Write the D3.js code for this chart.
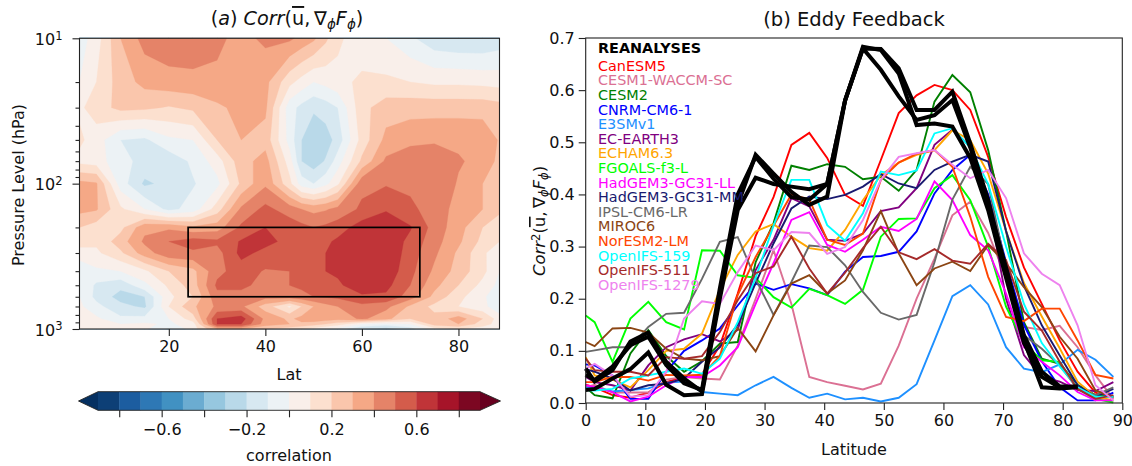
<!DOCTYPE html>
<html>
<head>
<meta charset="utf-8">
<script src="https://cdn.jsdelivr.net/npm/d3@7"></script>
<style>
  html, body { margin: 0; padding: 0; background: #fff; }
  text { font-family: "DejaVu Sans", sans-serif; fill: #111; }
  .ax path, .ax line { stroke: #222; stroke-width: 1.1; }
  .ax text { font-size: 16px; }
</style>
</head>
<body>
<svg id="fig" width="1132" height="466"></svg>
<script>
// panel (a): correlation field, rows run from 10 hPa down to 1000 hPa
const fieldLats = [1.5,5,10,15,20,25,30,35,40,45,47.5,50,52.5,55,60,65,70,75,80,85,88.5];
const pressureLevels = [10,20,30,50,70,100,150,200,250,300,400,500,600,700,850,925,1000];
const corrField = [
  [-.05,.05,.30,.44,.47,.47,.42,.37,.42,.42,.37,.32,.22,.12,.04,.00,-.08,-.17,-.19,-.19,-.16],
  [.00,.10,.25,.33,.36,.37,.38,.37,.33,.13,.06,.00,.03,.07,.12,.12,.10,.08,.08,.07,.06],
  [.08,.15,.23,.22,.19,.22,.28,.33,.32,-.06,-.13,-.18,-.15,-.10,.17,.25,.26,.26,.26,.26,.24],
  [.12,.05,-.10,-.12,-.02,.00,.20,.30,.26,-.04,-.20,-.29,-.25,-.16,.14,.33,.37,.38,.38,.37,.29],
  [.07,.05,-.07,-.13,-.17,-.08,.05,.26,.34,.05,-.20,-.26,-.19,-.05,.22,.42,.47,.49,.41,.37,.27],
  [.33,.31,-.05,-.22,-.17,-.11,-.03,.22,.38,.13,-.05,-.10,-.03,.08,.47,.49,.48,.48,.39,.30,.25],
  [.33,.31,.12,.00,-.13,-.06,.15,.42,.53,.45,.40,.37,.39,.43,.52,.59,.52,.46,.36,.30,.23],
  [.20,.15,.17,.37,.38,.32,.35,.52,.60,.56,.53,.50,.52,.55,.65,.67,.61,.46,.34,.20,.12],
  [.15,.12,.25,.42,.50,.55,.52,.61,.63,.57,.56,.55,.58,.62,.67,.68,.57,.44,.32,.17,.10],
  [.05,.08,.18,.35,.47,.48,.46,.63,.57,.57,.56,.56,.60,.63,.69,.69,.55,.42,.28,.12,.03],
  [-.07,-.02,.00,.08,.20,.27,.47,.55,.49,.50,.52,.56,.60,.62,.68,.67,.53,.38,.26,.13,.00],
  [.00,-.12,-.17,-.03,.12,.25,.52,.52,.47,.50,.52,.55,.57,.58,.67,.63,.50,.33,.20,.07,-.03],
  [.00,-.13,-.24,-.20,.07,.20,.47,.47,.43,.45,.47,.50,.51,.52,.58,.58,.45,.27,.13,.02,-.08],
  [.02,-.07,-.17,-.22,.10,.28,.42,.42,.25,.08,.20,.30,.36,.40,.47,.43,.28,.17,.10,.03,-.07],
  [.05,.02,-.08,-.07,.00,.15,.60,.65,.37,.28,.33,.36,.35,.33,.42,.33,.20,.23,.35,.20,.05],
  [.02,.03,.00,.02,-.02,.05,.60,.60,.35,.30,.28,.25,.20,.15,.00,-.05,.00,.25,.30,.15,.05],
  [.00,.00,.08,.02,-.12,.05,.30,.30,.20,.15,.10,.05,.00,-.05,-.20,-.25,-.15,.05,.10,.05,.03]
];
const boxLats = [24, 72];
const boxPressure = [200, 600];
const contourLevels = d3.range(-9, 10).map(d => d / 10);
const barTicks = [-.8,-.6,-.4,-.2,0,.2,.4,.6,.8];
const barLabels = [-.6,-.2,.2,.6];

// panel (b): latitudes of the model curves
const lats = [0,1.5,4.5,7.5,10.5,13.5,16.5,19.5,22.5,25.5,28.5,31.5,34.5,37.5,40.5,43.5,46.5,49.5,52.5,55.5,58.5,61.5,64.5,67.5,70.5,73.5,76.5,79.5,82.5,85.5,88.5];
const canesm5 = [.035,.03,.015,.01,.02,.04,.05,.055,.11,.21,.32,.395,.495,.518,.47,.399,.378,.466,.556,.59,.61,.60,.562,.472,.357,.26,.19,.12,.06,.02,.01];
const waccm = [.03,.035,.02,.02,.02,.045,.05,.047,.045,.11,.2,.293,.19,.05,.04,.033,.026,.037,.11,.2,.277,.36,.386,.326,.24,.146,.14,.148,.107,.053,.008];
const cesm2 = [.03,.015,.009,.095,.14,.09,.06,.08,.114,.117,.27,.345,.455,.447,.458,.453,.429,.434,.407,.447,.578,.629,.596,.485,.33,.155,.085,.075,.035,.015,.012];
const cnrm = [.074,.072,.053,.008,.008,.06,.10,.12,.143,.187,.229,.217,.228,.22,.207,.252,.28,.282,.29,.329,.402,.447,.476,.40,.27,.15,.08,.03,.005,.005,.02];
const e3sm = [.03,.03,.022,.025,.028,.039,.041,.021,.018,.015,.034,.05,.029,.01,.018,.007,.01,.003,.01,.036,.12,.205,.226,.189,.107,.066,.059,.074,.102,.083,.05];
const ecearth = [.05,.04,.034,.024,.072,.107,.122,.132,.118,.14,.255,.313,.393,.377,.313,.311,.325,.368,.375,.412,.495,.524,.492,.39,.2,.092,.05,.041,.025,.023,.04];
const echam = [.088,.053,.045,.03,.063,.10,.104,.133,.217,.284,.329,.343,.319,.297,.292,.332,.389,.437,.461,.476,.485,.523,.504,.44,.33,.23,.166,.105,.041,.012,.005];
const fgoals = [.168,.155,.079,.162,.194,.155,.141,.293,.292,.245,.24,.203,.183,.219,.207,.19,.217,.319,.353,.354,.412,.437,.389,.3,.185,.114,.082,.079,.027,.008,.001];
const hadLL = [.034,.031,.021,.003,.012,.034,.05,.05,.072,.107,.19,.268,.351,.366,.303,.29,.313,.338,.33,.353,.425,.389,.322,.293,.21,.107,.079,.053,.021,.005,.005];
const hadMM = [.065,.06,.047,.024,.034,.037,.047,.079,.107,.15,.23,.306,.373,.396,.391,.399,.415,.439,.421,.412,.447,.463,.476,.463,.33,.225,.149,.091,.034,.012,.027];
const ipsl = [.098,.101,.107,.107,.146,.171,.173,.238,.309,.318,.238,.169,.232,.302,.299,.264,.213,.173,.16,.169,.27,.39,.453,.42,.26,.13,.104,.072,.027,.015,.03];
const miroc = [.117,.109,.143,.144,.135,.104,.085,.082,.09,.144,.099,.168,.229,.245,.21,.235,.293,.368,.287,.226,.258,.271,.253,.303,.268,.222,.184,.127,.085,.024,.012];
const noresm = [.04,.04,.05,.05,.043,.054,.053,.054,.09,.207,.28,.34,.4,.39,.313,.303,.325,.428,.461,.478,.485,.453,.357,.242,.165,.157,.181,.181,.12,.054,.047];
const ifs159 = [.025,.024,.027,.047,.053,.06,.066,.056,.085,.155,.24,.34,.428,.428,.341,.311,.364,.444,.437,.446,.517,.527,.49,.42,.3,.19,.115,.07,.03,.012,.012];
const ifs511 = [.085,.063,.06,.06,.053,.088,.085,.09,.136,.197,.249,.262,.319,.258,.21,.25,.297,.338,.289,.276,.295,.273,.267,.305,.274,.175,.139,.079,.027,.008,.015];
const ifs1279 = [.066,.075,.053,.012,.015,.06,.162,.195,.19,.251,.302,.293,.328,.326,.286,.299,.351,.428,.472,.479,.485,.457,.431,.447,.393,.287,.248,.226,.149,.034,.005];
// the three reanalyses stop at 82.5
const rean1 = [.025,.027,.047,.065,.097,.035,.015,.017,.20,.37,.432,.42,.415,.41,.42,.58,.68,.679,.642,.562,.562,.597,.498,.389,.25,.12,.03,.028,.03];
const rean2 = [.066,.041,.063,.118,.135,.079,.047,.022,.21,.38,.476,.44,.405,.38,.396,.58,.683,.677,.632,.533,.536,.53,.47,.37,.24,.115,.05,.03,.032];
const rean3 = [.054,.044,.07,.111,.127,.073,.038,.025,.22,.40,.472,.43,.395,.39,.42,.58,.68,.639,.588,.543,.552,.581,.49,.38,.26,.13,.06,.032,.03];

const models = [
  ["CanESM5", canesm5, "#ff0000"],
  ["CESM1-WACCM-SC", waccm, "#db7093"],
  ["CESM2", cesm2, "#008000"],
  ["CNRM-CM6-1", cnrm, "#0000ff"],
  ["E3SMv1", e3sm, "#1e90ff"],
  ["EC-EARTH3", ecearth, "#800080"],
  ["ECHAM6.3", echam, "#ffa500"],
  ["FGOALS-f3-L", fgoals, "#00ff00"],
  ["HadGEM3-GC31-LL", hadLL, "#ff00ff"],
  ["HadGEM3-GC31-MM", hadMM, "#191970"],
  ["IPSL-CM6-LR", ipsl, "#696969"],
  ["MIROC6", miroc, "#8b4513"],
  ["NorESM2-LM", noresm, "#ff4500"],
  ["OpenIFS-159", ifs159, "#00ffff"],
  ["OpenIFS-511", ifs511, "#a52a2a"],
  ["OpenIFS-1279", ifs1279, "#ee82ee"]
];

const svg = d3.select("#fig");
const rdbu = d3.piecewise(d3.interpolateRgb, ["#053061","#2166ac","#4393c3","#92c5de","#d1e5f0","#f7f7f7","#fddbc7","#f4a582","#d6604d","#b2182b","#67001f"]);
const bandColor = lo => rdbu((lo + .05 + .9) / 1.8);

/* ---- left panel ---- */
const a = {left: 79.5, right: 499.5, top: 38.3, bottom: 329};
const xa = d3.scaleLinear().domain([1.5, 88.5]).range([a.left, a.right]);
const ya = d3.scaleLog().domain([10, 1000]).range([a.top, a.bottom]);
const gA = svg.append("g");

// grid index -> pixel, d3.contours puts samples at i+0.5
const colX = d3.scaleLinear().domain(fieldLats.map((d, i) => i + .5)).range(fieldLats.map(xa)).clamp(true);
const rowY = d3.scaleLinear().domain(pressureLevels.map((d, i) => i + .5)).range(pressureLevels.map(ya)).clamp(true);
const proj = d3.geoTransform({point: function(x, y) { this.stream.point(colX(x), rowY(y)); }});
const contourPath = d3.geoPath(proj);
const nx = fieldLats.length, ny = pressureLevels.length;
const contours = d3.contours().size([nx, ny]).thresholds(contourLevels)(corrField.flat());
gA.append("rect").attr("x", a.left).attr("y", a.top).attr("width", a.right - a.left).attr("height", a.bottom - a.top).attr("fill", "#053061");
gA.selectAll("path.band").data(contours).join("path")
  .attr("class", "band")
  .attr("d", contourPath)
  .attr("fill", d => bandColor(d.value))
  .attr("stroke", d => bandColor(d.value))
  .attr("stroke-width", .3);

gA.append("rect")
  .attr("x", xa(boxLats[0])).attr("y", ya(boxPressure[0]))
  .attr("width", xa(boxLats[1]) - xa(boxLats[0])).attr("height", ya(boxPressure[1]) - ya(boxPressure[0]))
  .attr("fill", "none").attr("stroke", "#000").attr("stroke-width", 1.7);

gA.append("rect").attr("x", a.left).attr("y", a.top).attr("width", a.right - a.left).attr("height", a.bottom - a.top)
  .attr("fill", "none").attr("stroke", "#222").attr("stroke-width", 1.1);

const axXa = gA.append("g").attr("class", "ax").attr("transform", `translate(0,${a.bottom})`)
  .call(d3.axisBottom(xa).tickValues([20, 40, 60, 80]).tickSize(7).tickPadding(5).tickFormat(d3.format("d")));
axXa.select(".domain").remove();

const minorP = [20,30,40,50,60,70,80,90,200,300,400,500,600,700,800,900];
const axYminor = gA.append("g").attr("class", "ax").attr("transform", `translate(${a.left},0)`)
  .call(d3.axisLeft(ya).tickValues(minorP).tickSize(4).tickFormat(""));
axYminor.select(".domain").remove();
const axYa = gA.append("g").attr("class", "ax").attr("transform", `translate(${a.left},0)`)
  .call(d3.axisLeft(ya).tickValues([10, 100, 1000]).tickSize(7).tickPadding(10).tickFormat(""));
axYa.select(".domain").remove();
axYa.selectAll(".tick text").each(function(d) {
  const t = d3.select(this).text(null).attr("dy", "0.38em");
  t.append("tspan").text("10");
  t.append("tspan").text(Math.round(Math.log10(d))).attr("dy", "-0.45em").attr("font-size", "11.5px");
});

gA.append("text").attr("x", 289).attr("y", 379.5).attr("text-anchor", "middle").attr("font-size", 16).text("Lat");
gA.append("text").attr("transform", "translate(24,185) rotate(-90)").attr("text-anchor", "middle").attr("font-size", 16).text("Pressure Level (hPa)");

// title (a) Corr(u, grad F)
function mathLabel(sel, prefix) {
  if (prefix) sel.append("tspan").text("(").attr("font-style", "normal");
  if (prefix) sel.append("tspan").text(prefix).attr("font-style", "italic");
  if (prefix) sel.append("tspan").text(") ").attr("font-style", "normal");
  sel.append("tspan").text("Corr").attr("font-style", "italic");
  if (!prefix) sel.append("tspan").text("2").attr("dy", "-0.4em").attr("font-size", "0.7em").attr("font-style", "normal");
  sel.append("tspan").text("(").attr("dy", prefix ? 0 : "0.28em");
  sel.append("tspan").text("u").attr("text-decoration", "overline");
  sel.append("tspan").text(",\u2009\u2207");
  sel.append("tspan").text("\u03d5").attr("dy", "0.3em").attr("font-size", "0.7em").attr("font-style", "italic");
  sel.append("tspan").text("F").attr("dy", "-0.21em").attr("font-style", "italic");
  sel.append("tspan").text("\u03d5").attr("dy", "0.3em").attr("font-size", "0.7em").attr("font-style", "italic");
  sel.append("tspan").text(")").attr("dy", "-0.21em");
}
gA.append("text").attr("x", 287).attr("y", 25).attr("text-anchor", "middle").attr("font-size", 19.2).call(mathLabel, "a");

/* ---- colorbar ---- */
const cb = {left: 98, right: 480, top: 391.7, bottom: 410.3};
const xc = d3.scaleLinear().domain([-.9, .9]).range([cb.left, cb.right]);
const gC = svg.append("g");
const barBands = contourLevels.slice(0, -1);
gC.selectAll("rect.seg").data(barBands).join("rect")
  .attr("class", "seg")
  .attr("x", d => xc(d)).attr("y", cb.top)
  .attr("width", d => xc(d + .1) - xc(d) + .4).attr("height", cb.bottom - cb.top)
  .attr("fill", d => bandColor(d));
const midBar = (cb.top + cb.bottom) / 2;
gC.append("path").attr("d", d3.line()([[cb.left, cb.top], [78.5, midBar], [cb.left, cb.bottom]])).attr("fill", "#053061");
gC.append("path").attr("d", d3.line()([[cb.right, cb.top], [500.5, midBar], [cb.right, cb.bottom]])).attr("fill", "#67001f");
gC.append("path")
  .attr("d", d3.line()([[cb.left, cb.top], [78.5, midBar], [cb.left, cb.bottom], [cb.right, cb.bottom], [500.5, midBar], [cb.right, cb.top]]) + "Z")
  .attr("fill", "none").attr("stroke", "#222").attr("stroke-width", .9);
const axC = gC.append("g").attr("class", "ax").attr("transform", `translate(0,${cb.bottom})`)
  .call(d3.axisBottom(xc).tickValues(barTicks).tickSize(7).tickPadding(6)
    .tickFormat(d => barLabels.includes(d) ? d3.format(".1f")(d).replace("-", "\u2212") : ""));
axC.select(".domain").remove();
gC.append("text").attr("x", 289).attr("y", 461).attr("text-anchor", "middle").attr("font-size", 16).text("correlation");

/* ---- right panel ---- */
const b = {left: 585.7, right: 1122.3, top: 38, bottom: 403};
const xb = d3.scaleLinear().domain([0, 90]).range([b.left, b.right]);
const yb = d3.scaleLinear().domain([0, .7]).range([b.bottom, b.top]);
const gB = svg.append("g");
const line = d3.line().x((d, i) => xb(lats[i])).y(d => yb(d));

models.forEach(m => {
  gB.append("path").attr("d", line(m[1])).attr("fill", "none").attr("stroke", m[2]).attr("stroke-width", 1.9).attr("stroke-linejoin", "miter");
});
[rean1, rean2, rean3].forEach(r => {
  gB.append("path").attr("d", line(r)).attr("fill", "none").attr("stroke", "#000").attr("stroke-width", 4);
});

gB.append("rect").attr("x", b.left).attr("y", b.top).attr("width", b.right - b.left).attr("height", b.bottom - b.top)
  .attr("fill", "none").attr("stroke", "#222").attr("stroke-width", 1.1);
const axXb = gB.append("g").attr("class", "ax").attr("transform", `translate(0,${b.bottom})`)
  .call(d3.axisBottom(xb).tickValues(d3.range(0, 91, 10)).tickSize(7).tickPadding(5).tickFormat(d3.format("d")));
axXb.select(".domain").remove();
const axYb = gB.append("g").attr("class", "ax").attr("transform", `translate(${b.left},0)`)
  .call(d3.axisLeft(yb).tickValues(d3.range(0, 8).map(d => d / 10)).tickSize(7).tickPadding(4).tickFormat(d3.format(".1f")));
axYb.select(".domain").remove();

gB.append("text").attr("x", 598).attr("y", 52.5).attr("font-size", 14.4).attr("font-weight", "bold").style("fill", "#000").text("REANALYSES");
models.forEach((m, i) => {
  gB.append("text").attr("x", 598).attr("y", 70.8 + i * 14.6).attr("font-size", 14.4).style("fill", m[2]).text(m[0]);
});

gB.append("text").attr("x", 854).attr("y", 26).attr("text-anchor", "middle").attr("font-size", 19.5).text("(b) Eddy Feedback");
gB.append("text").attr("x", 854).attr("y", 455).attr("text-anchor", "middle").attr("font-size", 16).text("Latitude");
gB.append("text").attr("transform", "translate(545,221) rotate(-90)").attr("text-anchor", "middle").attr("font-size", 16.5).call(mathLabel, "");
</script>
</body>
</html>
